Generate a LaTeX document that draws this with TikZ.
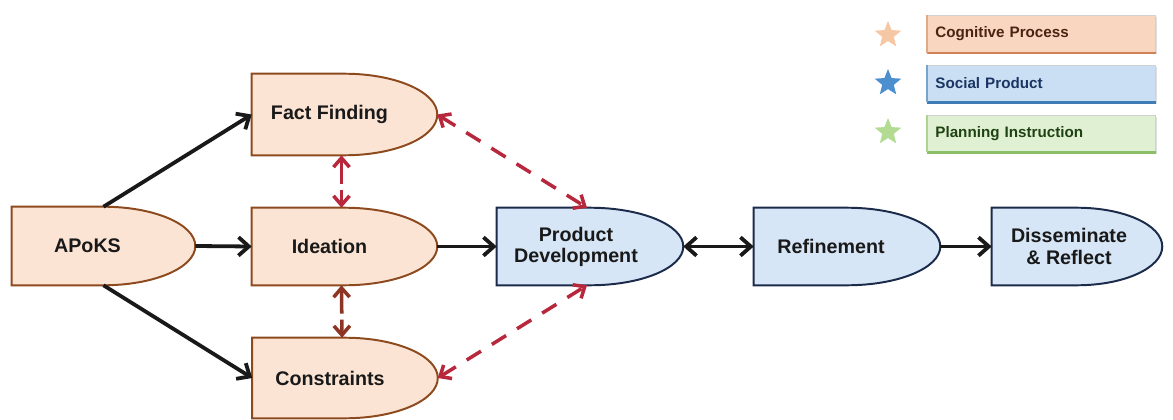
\documentclass[tikz,border=0pt]{standalone}
\usepackage{fontspec}
\setmainfont{Liberation Sans}
\usetikzlibrary{arrows.meta,backgrounds,calc,shapes.geometric,shadows}
\definecolor{warmfill}{HTML}{FCE4D4}
\definecolor{warmline}{HTML}{8C4A1E}
\definecolor{coolfill}{HTML}{D6E6F6}
\definecolor{coolline}{HTML}{1C2B4A}
\definecolor{linkred}{HTML}{B8283C}
\definecolor{linkbrown}{HTML}{8E3424}
\definecolor{keywarm}{HTML}{F9D6BF}
\definecolor{keywarmedge}{HTML}{D08257}
\definecolor{keywarmtext}{HTML}{4A2410}
\definecolor{keycool}{HTML}{CADFF3}
\definecolor{keycooledge}{HTML}{3E7DB6}
\definecolor{keycooltext}{HTML}{1A3563}
\definecolor{keygreen}{HTML}{E0F0D3}
\definecolor{keygreenedge}{HTML}{8BBE66}
\definecolor{keygreentext}{HTML}{1F4213}
\definecolor{starwarm}{HTML}{F6C7A4}
\definecolor{starcool}{HTML}{4C8FCF}
\definecolor{stargreen}{HTML}{B3DC92}
\newlength\pxu
\setlength\pxu{0.025cm}
\tikzset{
  stage/.style={minimum width=185\pxu,minimum height=78\pxu,inner sep=0pt},
  stagetext/.style={font=\fontsize{14}{15}\selectfont\bfseries,align=center,text=black!90},
  warm/.style={fill=warmfill,draw=warmline},
  cool/.style={fill=coolfill,draw=coolline},
  flow/.style={-{Straight Barb[length=2.6mm,width=4.6mm]},draw=black!90,line width=2.7pt},
  flowboth/.style={flow,{Straight Barb[length=2.6mm,width=4.6mm]}-{Straight Barb[length=2.6mm,width=4.6mm]}},
  link/.style={{Straight Barb[length=2.3mm,width=4mm]}-{Straight Barb[length=2.3mm,width=4mm]},draw=linkred,line width=2.5pt,dash pattern=on 4.2mm off 3.2mm},
  keybox/.style={anchor=west,text width=212\pxu,inner xsep=8\pxu,minimum height=37\pxu,align=left,draw=black!18,line width=.6pt,
    font=\fontsize{10.8}{12}\selectfont\bfseries,drop shadow={opacity=.25,shadow xshift=1.2pt,shadow yshift=-1.2pt}},
  keystar/.style={star,star points=5,star point ratio=2.3,minimum size=28\pxu,inner sep=0pt},
}
\begin{document}
\begin{tikzpicture}[x=\pxu,y=-\pxu]
  \useasboundingbox (0,0) rectangle (1173,420);

  % ── stages (text sits a little left of the middle) ──
  \node[stage,minimum width=183\pxu] (apoks) at (103.5,246) {};
  \node[stage,minimum height=81\pxu] (fact) at (344.5,114.5) {};
  \node[stage,minimum height=77\pxu] (idea) at (344.5,246.5) {};
  \node[stage,minimum height=80\pxu] (cons) at (345,378) {};
  \node[stage,minimum width=186\pxu,minimum height=77\pxu] (prod) at (590,246.5) {};
  \node[stage,minimum width=186\pxu,minimum height=77\pxu] (refine) at (847,246.5) {};
  \node[stage,minimum width=170\pxu,minimum height=77\pxu] (diss) at (1077,246.5) {};

  \foreach \s/\txt/\dx in {apoks/APoKS/16,fact/Fact Finding/15,idea/Ideation/15,cons/Constraints/15,
                           prod/{Product\\Development}/14,refine/Refinement/16,diss/{Disseminate\\\& Reflect}/8}
    \path (\s.center) node[stagetext,xshift=-\dx\pxu] {\txt};

  % outlines: straight on the left, half ellipse on the right
  \begin{scope}[on background layer]
    \foreach \s/\tone in {apoks/warm,fact/warm,idea/warm,cons/warm,prod/cool,refine/cool,diss/cool}
      \filldraw[\tone,line width=1.4pt]
        let \p1=(\s.north), \p2=(\s.east), \p3=(\s.center) in
        (\s.north) -- (\s.north west) -- (\s.south west) -- (\s.south)
        arc[start angle=-90,end angle=90,x radius=\x2-\x3,y radius=\y1-\y3] -- cycle;
  \end{scope}

  % ── solid flow ──
  \draw[flow] (apoks.north) -- (fact.west);
  \draw[flow] (apoks.east) -- (idea.west);
  \draw[flow] (apoks.south) -- (cons.west);
  \draw[flow] (idea.east) -- (prod.west);
  \draw[flowboth] (prod.east) -- (refine.west);
  \draw[flow] (refine.east) -- (diss.west);

  % ── dashed feedback ──
  \draw[link] (fact.east) -- ([xshift=-3\pxu]prod.north);
  \draw[link] (cons.east) -- ([xshift=-3\pxu]prod.south);
  \draw[link,dash pattern=on 6mm off 1.5mm] ([xshift=-3\pxu]fact.south) -- ([xshift=-3\pxu]idea.north);
  \draw[link,draw=linkbrown,dash pattern=on 6mm off 1.5mm] ([xshift=-3\pxu]idea.south) -- ([xshift=-3\pxu]cons.north);

  % ── key ──
  \node[keybox,fill=keywarm,text=keywarmtext] (keycog) at (927,34) {Cognitive Process};
  \node[keybox,fill=keycool,text=keycooltext] (keysoc) at (927,83.5) {Social Product};
  \node[keybox,fill=keygreen,text=keygreentext] (keyplan) at (927,133.5) {Planning Instruction};
  \foreach \k/\c in {keycog/keywarmedge,keysoc/keycooledge,keyplan/keygreenedge} {
    \draw[\c,line width=1.6pt] (\k.south west) -- (\k.south east);
    \draw[\c!70,line width=1pt] (\k.south west) -- (\k.north west);
  }
  \node[keystar,fill=starwarm] (starcog) at (888,35) {};
  \node[keystar,fill=starcool] (starsoc) at (888,83) {};
  \node[keystar,fill=stargreen] (starplan) at (888,132) {};
\end{tikzpicture}
\end{document}
